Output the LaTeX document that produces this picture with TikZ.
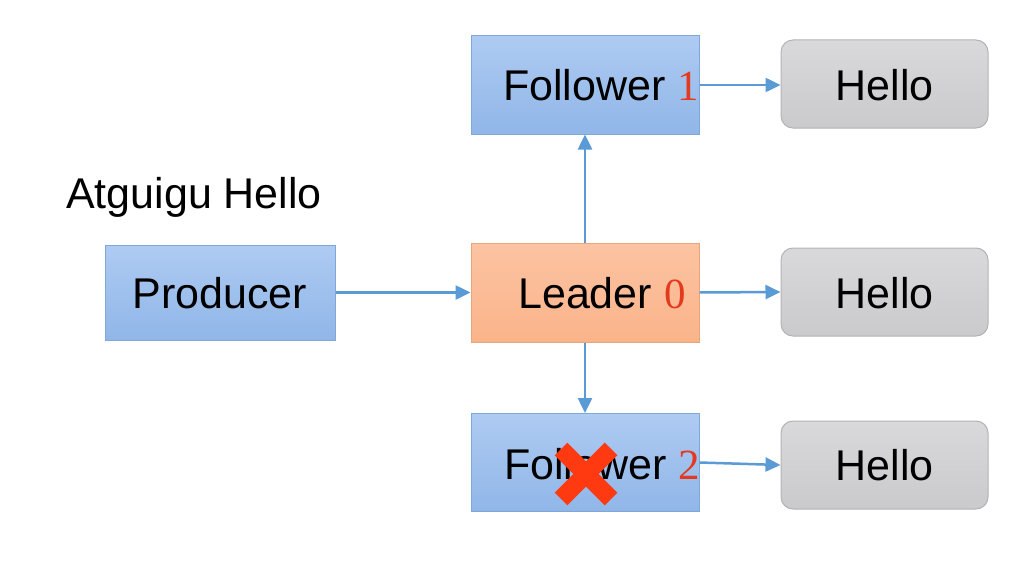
\documentclass[tikz,border=0pt]{standalone}
\usepackage{fontspec}
\setmainfont{Liberation Sans}
\newfontfamily\numfont{Liberation Serif}
\usetikzlibrary{arrows.meta}
\definecolor{bluetop}{HTML}{AECBF2}
\definecolor{bluebot}{HTML}{90B6E8}
\definecolor{blueedge}{HTML}{7FA7D9}
\definecolor{orangetop}{HTML}{FCC3A2}
\definecolor{orangebot}{HTML}{FAB48A}
\definecolor{orangeedge}{HTML}{E9A57E}
\definecolor{graytop}{HTML}{D9D9DB}
\definecolor{graybot}{HTML}{CACACC}
\definecolor{grayedge}{HTML}{B3B3B5}
\definecolor{arrowblue}{HTML}{5B9BD5}
\definecolor{numred}{HTML}{E5391E}
\definecolor{xred}{HTML}{FF3A10}
\tikzset{
  bluebox/.style={draw=blueedge, line width=1pt, top color=bluetop, bottom color=bluebot, minimum width=228pt, minimum height=98pt, inner sep=0pt},
  orangebox/.style={draw=orangeedge, line width=1pt, top color=orangetop, bottom color=orangebot, minimum width=228pt, minimum height=99pt, inner sep=0pt},
  hellobox/.style={draw=grayedge, line width=1pt, top color=graytop, bottom color=graybot, rounded corners=12pt, minimum width=207pt, minimum height=88pt, inner sep=0pt},
  lbl/.style={inner sep=0pt, font=\fontsize{43}{50}\selectfont, anchor=base west},
  hlbl/.style={inner sep=0pt, font=\fontsize{43}{50}\selectfont, anchor=base},
  conn/.style={draw=arrowblue, line width=2.5pt, -{Triangle[length=15pt,width=14pt]}},
  xmark/.style={draw=xred, line width=18pt}
}
\begin{document}
\begin{tikzpicture}[x=1pt,y=-1pt]
\useasboundingbox[fill=white] (0,0) rectangle (1033,578);
% boxes
\node[bluebox] (f1) at (585,85) {};
\node[orangebox] (ld) at (585,292.5) {};
\node[bluebox] (f2) at (585,462.5) {};
\node[bluebox, minimum width=230pt, minimum height=95pt] (pr) at (220,292.5) {};
\node[hellobox] (h1) at (884.5,84) {};
\node[hellobox] (h2) at (884.5,292) {};
\node[hellobox] (h3) at (884.5,465) {};
% labels
\node[lbl] (t1) at (503,100) {Follower {\numfont\color{numred}1}};
\node[lbl] (t0) at (518,308) {Leader {\numfont\color{numred}0}};
\node[lbl] (t2) at (504,479) {Follower {\numfont\color{numred}2}};
\node[hlbl] (th1) at (884.5,100) {Hello};
\node[hlbl] (th2) at (884.5,308) {Hello};
\node[hlbl] (th3) at (884.5,480) {Hello};
\node[hlbl] (tp) at (220,308) {Producer};
\node[lbl] (ta) at (66,208) {Atguigu Hello};
% connectors
\draw[conn] (pr.east) -- (ld.west);
\draw[conn] (ld.north) -- (f1.south);
\draw[conn] (ld.south) -- (f2.north);
\draw[conn] (f1.east) -- (h1.west |- f1.east);
\draw[conn] (ld.east) -- (h2.west);
\draw[conn] (f2.east) -- (h3.west);
% red cross
\coordinate (xc) at (586,474);
\draw[xmark] ([shift={(-25,-25)}]xc) -- ([shift={(25,25)}]xc);
\draw[xmark] ([shift={(25,-25)}]xc) -- ([shift={(-25,25)}]xc);
\end{tikzpicture}
\end{document}
